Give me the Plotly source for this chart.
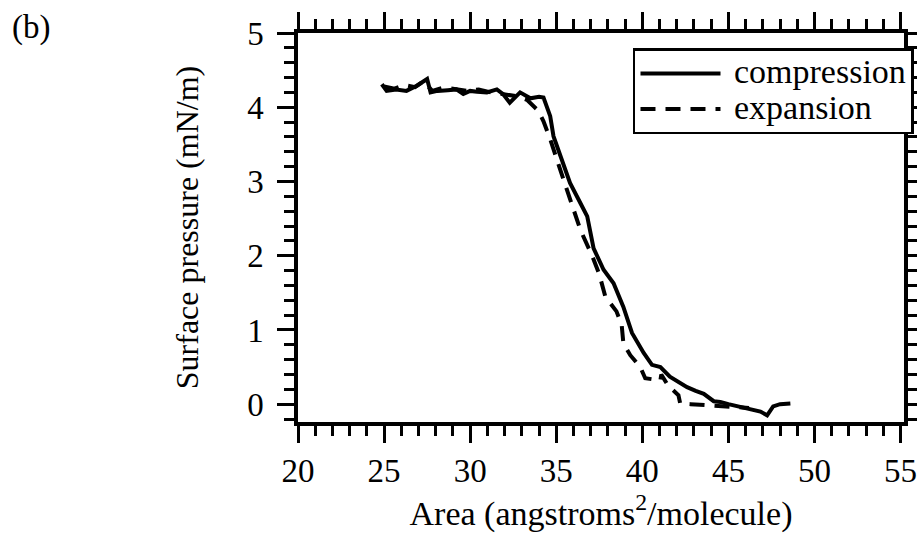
import plotly.graph_objects as go

# Compression curve (solid)
comp_x = [24.87, 25.15, 25.7, 26.3, 26.9, 27.5, 27.7, 28.1, 28.7, 29.2, 29.6, 30.0, 30.4,
          30.97, 31.55, 31.9, 32.3, 32.9, 33.5, 34.0, 34.26, 34.65, 34.84, 35.23, 35.8,
          36.4, 36.8, 37.17, 37.37, 37.75, 38.33, 38.9, 39.4, 40.08, 40.56, 41.05, 41.6,
          42.1, 42.6, 43.1, 43.57, 44.15, 44.53, 45.0, 45.5, 46.0, 46.5, 46.86, 47.25,
          47.6, 48.0, 48.6]
comp_y = [4.31, 4.22, 4.24, 4.22, 4.29, 4.38, 4.2, 4.22, 4.23, 4.24, 4.18, 4.22, 4.21,
          4.2, 4.24, 4.18, 4.06, 4.2, 4.12, 4.14, 4.13, 3.88, 3.61, 3.34, 2.98,
          2.71, 2.53, 2.1, 2.0, 1.81, 1.63, 1.31, 0.96, 0.69, 0.53, 0.5, 0.37,
          0.3, 0.23, 0.18, 0.14, 0.04, 0.03, 0.0, -0.03, -0.05, -0.08, -0.1, -0.15,
          -0.03, 0.0, 0.01]

# Expansion curve (dashed)
exp_x = [25.0, 25.6, 26.2, 26.8, 27.3, 27.8, 28.4, 29.0, 29.8, 30.5, 31.2, 32.0, 32.7,
         33.3, 33.97, 34.26, 34.65, 35.23, 35.8, 36.4, 37.1, 37.5, 37.85, 38.5, 38.8,
         38.9, 39.3, 39.88, 40.17, 40.6, 41.05, 41.1, 41.5, 42.1, 42.2, 42.8, 43.4,
         44.0, 44.5, 45.0, 45.6, 46.2]
exp_y = [4.28, 4.25, 4.3, 4.27, 4.35, 4.22, 4.26, 4.25, 4.22, 4.24, 4.2, 4.18, 4.15,
         4.1, 3.95, 3.81, 3.57, 3.16, 2.76, 2.35, 1.99, 1.75, 1.45, 1.25, 1.07,
         0.82, 0.66, 0.5, 0.35, 0.33, 0.32, 0.4, 0.25, 0.12, 0.01, 0.0, -0.01,
         -0.01, -0.02, -0.03, -0.04, -0.05]

x_ticks = [20, 25, 30, 35, 40, 45, 50, 55]
y_ticks = [0, 1, 2, 3, 4, 5]
series_names = ["compression", "expansion"]

FONT = "Liberation Serif, Times New Roman, serif"
FS = 33


def legend_label(name):
    return f'<span style="font-size:34px">&#160;{name}</span>'


fig = go.Figure()
fig.add_trace(go.Scatter(x=comp_x, y=comp_y, mode="lines",
                         name=legend_label(series_names[0]),
                         line=dict(color="black", width=4)))
fig.add_trace(go.Scatter(x=exp_x, y=exp_y, mode="lines",
                         name=legend_label(series_names[1]),
                         line=dict(color="black", width=4, dash="15px,10px")))

axis_common = dict(
    showline=True, linecolor="black", linewidth=3.5, mirror="allticks",
    ticks="outside", ticklen=17, tickwidth=2.8, tickcolor="black",
    showgrid=False, zeroline=False, automargin=False,
    tickfont=dict(family=FONT, size=FS, color="black"),
)

fig.update_xaxes(**axis_common, range=[20, 55.2], tickvals=x_ticks,
                 ticklabeloverflow="allow",
                 minor=dict(dtick=1, ticks="outside", ticklen=10, tickwidth=2.8,
                            tickcolor="black", showgrid=False),
                 title=dict(text="Area (angstroms<sup>2</sup>/molecule)",
                            font=dict(family=FONT, size=34, color="black"), standoff=0))
fig.update_yaxes(**axis_common, range=[-0.24, 5.0], tickvals=y_ticks,
                 ticklabelstandoff=7,
                 minor=dict(dtick=0.2, tick0=0, ticks="outside", ticklen=10, tickwidth=2.8,
                            tickcolor="black", showgrid=False),
                 title=dict(text="Surface pressure (mN/m)",
                            font=dict(family=FONT, size=32, color="black"), standoff=40))

fig.update_layout(
    title=dict(text="(b)", x=0.013, xref="container", xanchor="left",
               y=0.95, yref="container", yanchor="middle",
               font=dict(family=FONT, size=FS, color="black")),
    width=917, height=533,
    margin=dict(l=298, r=13, t=33, b=111, autoexpand=False),
    paper_bgcolor="white", plot_bgcolor="white",
    showlegend=True,
    legend=dict(x=1.0165, y=0.961, xanchor="right", yanchor="top",
                bgcolor="white", bordercolor="black", borderwidth=2.5,
                font=dict(family=FONT, size=25, color="black"),
                itemwidth=80, tracegroupgap=0),
)

fig.write_html("out.html")
